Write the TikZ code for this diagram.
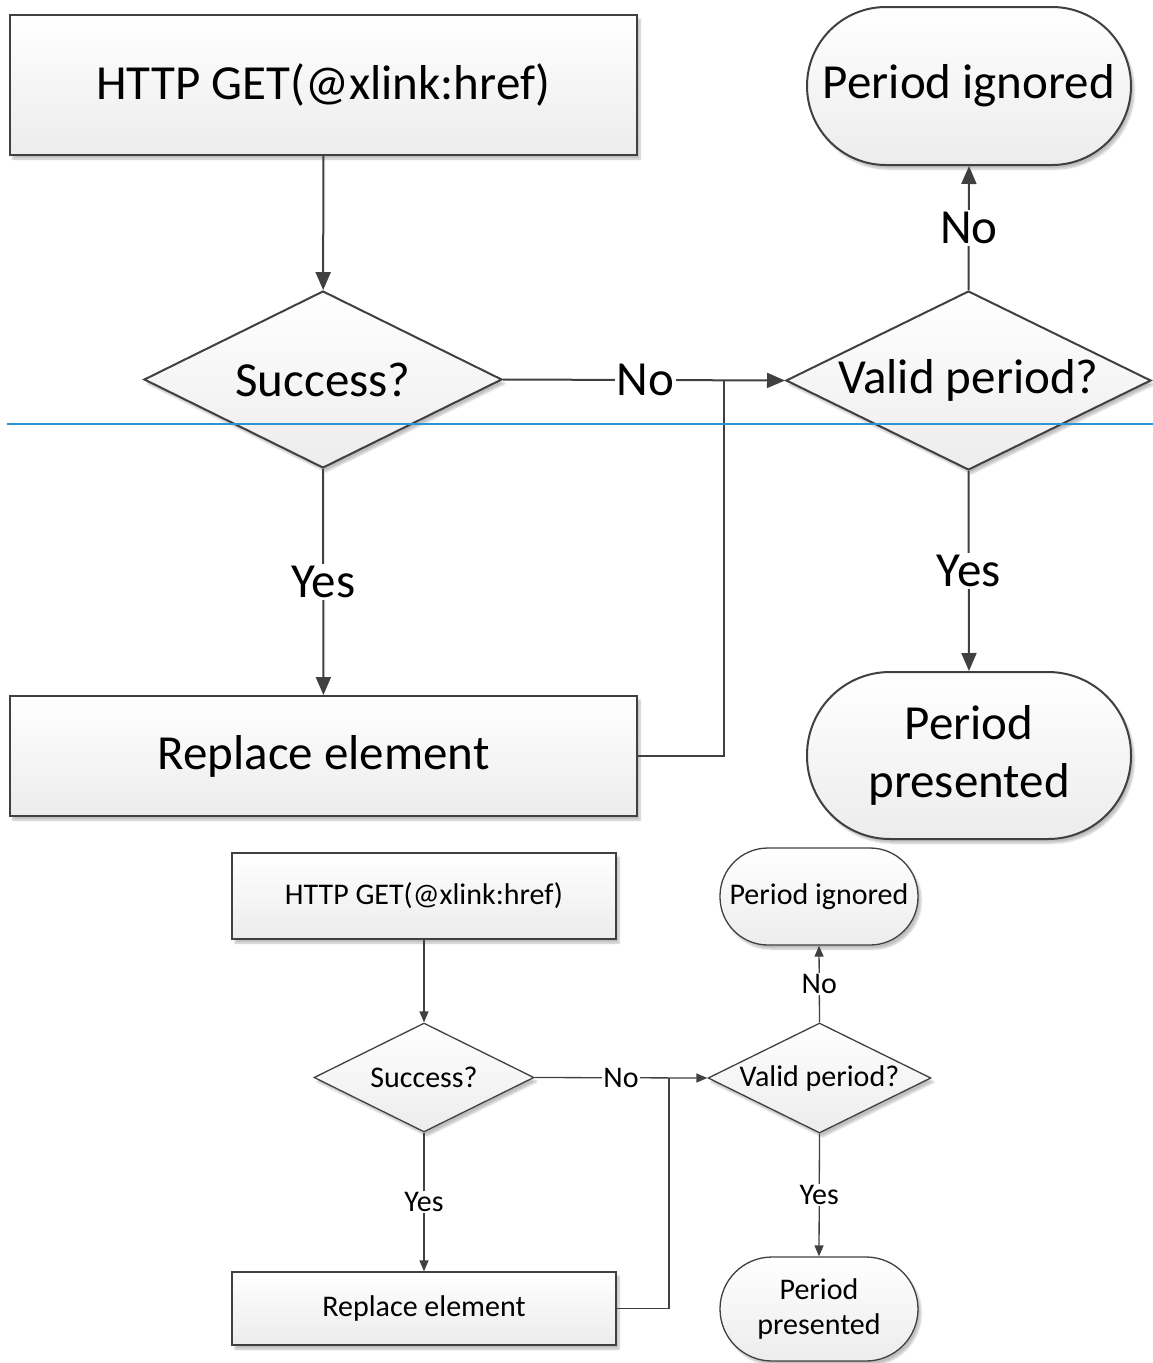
\documentclass[tikz,border=0pt]{standalone}
\usepackage{fontspec}
\setmainfont{Carlito}
\usetikzlibrary{shapes.geometric,arrows.meta,shadows.blur}
\definecolor{linec}{HTML}{404040}
\definecolor{boxbot}{HTML}{ECECEC}
\definecolor{guide}{HTML}{2E93D1}
\newcommand{\bigtxt}{\fontsize{49}{58}\selectfont}
\newcommand{\smalltxt}{\fontsize{30}{35}\selectfont}
\tikzset{
  shape base/.style={draw=linec, top color=white, bottom color=boxbot, inner sep=0pt,
    blur shadow={shadow xshift=3pt, shadow yshift=-4pt, shadow blur steps=6, shadow opacity=25}},
  procbox/.style={shape base, rectangle},
  decision/.style={shape base, diamond, aspect=2.04},
  terminal/.style={shape base, rectangle, align=center},
  big/.style={line width=2pt, font=\bigtxt},
  small/.style={line width=1.3pt, font=\smalltxt},
  conn/.style={draw=linec},
  bigarrow/.style={conn, line width=2pt, -{Triangle[length=18pt,width=15pt]}},
  smallarrow/.style={conn, line width=1.3pt, -{Triangle[length=11pt,width=9pt]}},
  biglabel/.style={fill=white, inner sep=2pt, font=\bigtxt},
  smalllabel/.style={fill=white, inner sep=1pt, font=\smalltxt},
}
\begin{document}
\begin{tikzpicture}[x=1pt, y=-1pt]
\useasboundingbox (0,0) rectangle (1153,1363);

% ---------- large flowchart ----------
\node[procbox, big, minimum width=627pt, minimum height=140pt] (get) at (323.5,85) {HTTP GET(@xlink:href)};
\node[decision, big, minimum width=358pt, minimum height=177pt] (succ) at (323,379.5) {Success?};
\node[decision, big, minimum width=365pt, minimum height=179pt] (valid) at (968.5,380.5) {Valid period?};
\node[terminal, big, minimum width=324pt, minimum height=158pt, rounded corners=79pt] (ign) at (969,86) {Period ignored};
\node[procbox, big, minimum width=627pt, minimum height=120pt] (rep) at (323.5,756) {Replace element};
\node[terminal, big, minimum width=324pt, minimum height=167pt, rounded corners=83pt] (pres) at (969,755.5) {Period\\presented};
\coordinate (join) at (724,380);

\draw[bigarrow] (get) -- (succ);
\draw[bigarrow] (succ) -- node[biglabel] (yes1) {Yes} (rep);
\draw[bigarrow] (succ.east) -- node[biglabel, pos=0.505] (no1) {No} (valid.west);
\draw[conn, line width=2pt] (rep.east) -| (join);
\draw[bigarrow] (valid.north) -- node[biglabel] (no2) {No} (ign.south);
\draw[bigarrow] (valid.south) -- node[biglabel] (yes2) {Yes} (pres.north);

% ---------- guide line ----------
\coordinate (gl) at (7,424);
\coordinate (gr) at (1153,424);
\draw[guide, line width=1.5pt] (gl) -- (gr);

% ---------- small flowchart ----------
\node[procbox, small, minimum width=384pt, minimum height=86pt] (sget) at (424,896) {HTTP GET(@xlink:href)};
\node[decision, small, minimum width=220pt, minimum height=109pt] (ssucc) at (424,1077.5) {Success?};
\node[decision, small, minimum width=223pt, minimum height=110pt] (svalid) at (819.5,1078) {Valid period?};
\node[terminal, small, minimum width=198pt, minimum height=97pt, rounded corners=48pt] (sign) at (819,896.5) {Period ignored};
\node[procbox, small, minimum width=384pt, minimum height=73pt] (srep) at (424,1308.5) {Replace element};
\node[terminal, small, minimum width=198pt, minimum height=104pt, rounded corners=52pt] (spres) at (819,1309) {Period\\presented};
\coordinate (sjoin) at (669,1078);

\draw[smallarrow] (sget) -- (ssucc);
\draw[smallarrow] (ssucc) -- node[smalllabel] (syes1) {Yes} (srep);
\draw[smallarrow] (ssucc.east) -- node[smalllabel] (sno1) {No} (svalid.west);
\draw[conn, line width=1.3pt] (srep.east) -| (sjoin);
\draw[smallarrow] (svalid.north) -- node[smalllabel] (sno2) {No} (sign.south);
\draw[smallarrow] (svalid.south) -- node[smalllabel] (syes2) {Yes} (spres.north);
\end{tikzpicture}
\end{document}
